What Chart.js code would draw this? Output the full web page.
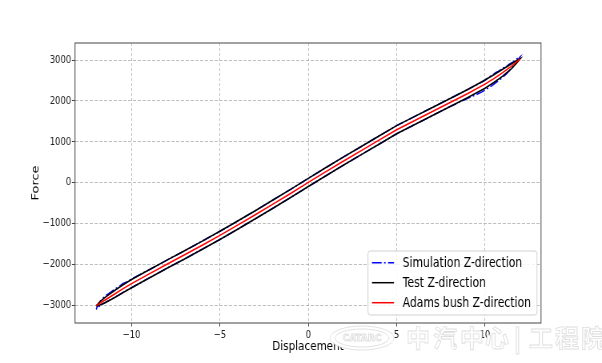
<!DOCTYPE html>
<html><head><meta charset="utf-8">
<script src="https://cdn.jsdelivr.net/npm/chart.js@4.4.1/dist/chart.umd.min.js"></script>
<style>html,body{margin:0;padding:0;background:#fff;overflow:hidden}canvas{display:block}</style>
</head><body>
<canvas id="c" width="752" height="363" style="width:602px;height:363px"></canvas>
<script>
// ---- data ----
const seriesNames = ['Simulation Z-direction', 'Test Z-direction', 'Adams bush Z-direction'];
const xTickValues = [-10, -5, 0, 5, 10];
const yTickValues = [-3000, -2000, -1000, 0, 1000, 2000, 3000];

const adamsDisp  = [-12, -11.5, -11, -10.5, -10, -9, -8, -7, -6, -5, -4, -3, -2, -1, 0, 1, 2, 3, 4, 5, 6, 7, 8, 9, 10, 10.5, 11, 11.5, 12];
const adamsForce = [-3010, -2870, -2735, -2600, -2470, -2230, -1995, -1765, -1530, -1290, -1040, -785, -525, -265, 5, 270, 530, 785, 1040, 1295, 1515, 1735, 1955, 2175, 2410, 2545, 2690, 2850, 3030];

const testDisp      = [-12, -11.8, -11.5, -11, -10.5, -10, -9, -8, -7, -6, -5, -4, -3, -2, -1, 0, 1, 2, 3, 4, 5, 6, 7, 8, 9, 10, 10.5, 11, 11.5, 11.8, 12];
const testForceUp   = [-3015, -2915, -2805, -2650, -2505, -2370, -2130, -1895, -1665, -1430, -1190, -940, -685, -425, -165, 105, 370, 630, 885, 1140, 1395, 1615, 1835, 2055, 2275, 2510, 2640, 2775, 2910, 2990, 3035];
const testForceDown = [-3015, -2995, -2935, -2820, -2695, -2570, -2330, -2095, -1865, -1630, -1390, -1140, -885, -625, -365, -95, 170, 430, 685, 940, 1195, 1415, 1635, 1855, 2075, 2310, 2450, 2605, 2790, 2930, 3035];

const simDisp      = [-12, -11.9, -11.7, -11.5, -11.3, -11.1, -10.9, -10.7, -10.5, -10.2, -10, -9, -8, -7, -6, -5, -4, -3, -2, -1, 0, 1, 2, 3, 4, 5, 6, 7, 8, 9, 9.5, 9.8, 10, 10.2, 10.4, 10.6, 10.8, 11, 11.2, 11.4, 11.6, 11.8, 12];
const simForceUp   = [-3100, -2985, -2860, -2770, -2715, -2655, -2590, -2540, -2470, -2415, -2355, -2130, -1895, -1665, -1430, -1190, -940, -685, -425, -165, 105, 370, 630, 885, 1140, 1395, 1615, 1835, 2055, 2275, 2390, 2455, 2505, 2575, 2625, 2690, 2735, 2800, 2840, 2905, 2955, 3025, 3085];
const simForceDown = [-3100, -3050, -2985, -2935, -2885, -2840, -2790, -2745, -2690, -2615, -2570, -2330, -2095, -1865, -1630, -1390, -1140, -885, -625, -365, -95, 170, 430, 685, 940, 1195, 1415, 1635, 1855, 2060, 2150, 2215, 2265, 2320, 2375, 2440, 2505, 2575, 2655, 2745, 2840, 2950, 3085];

// ---- helpers ----
function loop(xs, up, down) {
  const pts = xs.map((x, i) => ({x: x, y: up[i]}));
  for (let i = xs.length - 1; i >= 0; i--) pts.push({x: xs[i], y: down[i]});
  return pts;
}
function curve(xs, ys) { return xs.map((x, i) => ({x: x, y: ys[i]})); }
const fmt = v => String(v).replace('-', '\u2212');

const K = 602 / 752; // horizontal compression of the figure
const FONT = '"DejaVu Sans", sans-serif';
const colors = ['#0000ff', '#000000', '#ff0000'];
const dashes = [[11, 3, 2, 3], [], []];

const decor = {
  id: 'decor',
  afterDraw(chart) {
    const ctx = chart.ctx, a = chart.chartArea;
    ctx.save();
    // frame
    ctx.strokeStyle = '#555';
    ctx.lineWidth = 1.1;
    ctx.setLineDash([]);
    ctx.strokeRect(a.left, a.top, a.right - a.left, a.bottom - a.top);

    // legend
    const bx = 368 / K, bw = (537 - 368) / K, by = 251, bh = 64, r = 3;
    ctx.beginPath();
    ctx.moveTo(bx + r, by);
    ctx.lineTo(bx + bw - r, by); ctx.quadraticCurveTo(bx + bw, by, bx + bw, by + r);
    ctx.lineTo(bx + bw, by + bh - r); ctx.quadraticCurveTo(bx + bw, by + bh, bx + bw - r, by + bh);
    ctx.lineTo(bx + r, by + bh); ctx.quadraticCurveTo(bx, by + bh, bx, by + bh - r);
    ctx.lineTo(bx, by + r); ctx.quadraticCurveTo(bx, by, bx + r, by);
    ctx.closePath();
    ctx.fillStyle = 'rgba(255,255,255,0.85)';
    ctx.fill();
    ctx.strokeStyle = '#d0d0d0';
    ctx.lineWidth = 1;
    ctx.stroke();
    const rows = [262.7, 282.7, 302.7];
    ctx.font = '13.5px ' + FONT;
    ctx.textBaseline = 'middle';
    ctx.textAlign = 'left';
    chart.data.datasets.forEach((ds, i) => {
      ctx.beginPath();
      ctx.setLineDash(i === 0 ? [12, 3, 2, 3] : []);
      ctx.strokeStyle = ds.borderColor;
      ctx.lineWidth = 1.5;
      ctx.moveTo(372 / K, rows[i]);
      ctx.lineTo(394 / K, rows[i]);
      ctx.stroke();
      ctx.setLineDash([]);
      ctx.fillStyle = '#000';
      ctx.fillText(ds.label, 402.7 / K, rows[i] + 0.5);
    });

    // watermark (drawn uncompressed, white fill with light outline)
    ctx.scale(1 / K, 1);
    ctx.lineWidth = 0.8;
    ctx.strokeStyle = '#dedede';
    ctx.fillStyle = '#ffffff';
    ctx.beginPath();
    ctx.ellipse(362, 338, 32, 12, 0, 0, Math.PI * 2);
    ctx.fill(); ctx.stroke();
    ctx.beginPath();
    ctx.ellipse(362, 338, 27, 9, 0, 0, Math.PI * 2);
    ctx.stroke();
    ctx.font = 'bold 9px ' + FONT;
    ctx.textAlign = 'center';
    ctx.strokeText('CATARC', 362, 338.5);
    ctx.font = 'bold 24px "Noto Sans CJK SC"';
    ctx.textAlign = 'left';
    const chars = ['中', '汽', '中', '心', '|', '工', '程', '院'];
    const cx = [406, 433, 460, 485, 514, 529, 555, 581];
    chars.forEach((ch, i) => {
      ctx.fillText(ch, cx[i], 338);
      ctx.strokeText(ch, cx[i], 338);
    });
    ctx.restore();
  }
};

new Chart(document.getElementById('c'), {
  type: 'scatter',
  data: {
    datasets: [
      {label: seriesNames[0], data: loop(simDisp, simForceUp, simForceDown), borderColor: colors[0], borderDash: dashes[0], borderWidth: 1.5, order: 3},
      {label: seriesNames[1], data: loop(testDisp, testForceUp, testForceDown), borderColor: colors[1], borderWidth: 1.6, order: 2},
      {label: seriesNames[2], data: curve(adamsDisp, adamsForce), borderColor: colors[2], borderWidth: 1.5, order: 1}
    ].map(d => Object.assign({showLine: true, pointRadius: 0, pointHoverRadius: 0, fill: false, tension: 0}, d))
  },
  options: {
    responsive: false,
    devicePixelRatio: 1,
    animation: false,
    events: [],
    layout: {padding: {left: 0, top: 43, right: 752 - 541 / K, bottom: 0}},
    plugins: {legend: {display: false}, tooltip: {enabled: false}},
    scales: {
      x: {
        type: 'linear', position: 'bottom', min: -13.2, max: 13.17,
        afterBuildTicks: s => { s.ticks = xTickValues.map(v => ({value: v})); },
        afterFit: s => { s.height = 40; },
        ticks: {callback: v => fmt(v), color: '#222', font: {family: FONT, size: 10.5}, padding: 2, maxRotation: 0, autoSkip: false},
        grid: {color: 'rgba(140,140,140,0.7)', lineWidth: 0.8, tickLength: 3.5, tickColor: '#444', tickWidth: 1},
        border: {display: false, dash: [3, 2]},
        title: {display: true, text: 'Displacement', color: '#000', font: {family: FONT, size: 13}, padding: {top: 0, bottom: 8.7}}
      },
      y: {
        type: 'linear', position: 'left', min: -3433, max: 3416,
        afterBuildTicks: s => { s.ticks = yTickValues.map(v => ({value: v})); },
        afterFit: s => { s.width = 75 / K; },
        ticks: {callback: v => fmt(v), color: '#222', font: {family: FONT, size: 10.5}, padding: 1, autoSkip: false},
        grid: {color: 'rgba(140,140,140,0.7)', lineWidth: 0.8, tickLength: 3.8, tickColor: '#444', tickWidth: 1},
        border: {display: false, dash: [4, 2]},
        title: {display: true, text: 'Force', color: '#000', font: {family: FONT, size: 13}, padding: {top: 37.2, bottom: 0}}
      }
    }
  },
  plugins: [decor]
});
</script>
</body></html>
